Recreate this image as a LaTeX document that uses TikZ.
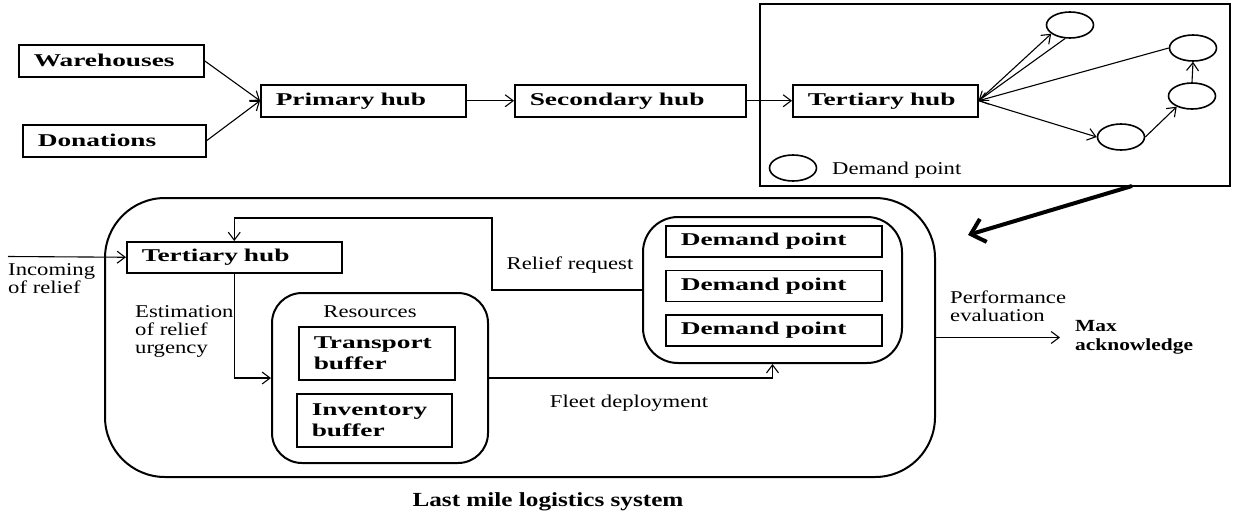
\documentclass[tikz,border=0pt]{standalone}
\usepackage{fontspec}
\setmainfont{Liberation Serif}[FakeStretch=1.26]
\newfontfamily\boxfont{Liberation Serif}[FakeStretch=1.52]
\usepackage{tikz}
\usetikzlibrary{arrows.meta, positioning, shapes.geometric}

\begin{document}
\begin{tikzpicture}[x=1pt, y=-1pt,
  hubbox/.style={
    draw, line width=1.5pt, anchor=north west,
    inner xsep=15pt, inner ysep=0pt, minimum height=32pt,
    text width=#1, align=left,
    font=\boxfont\bfseries\fontsize{18}{21}\selectfont
  },
  groupbox/.style={draw, line width=2pt, rounded corners=#1, inner sep=0pt},
  dpoint/.style={ellipse, draw, line width=1.6pt,
    minimum width=47pt, minimum height=26pt, inner sep=0pt},
  lbl/.style={font=\fontsize{18}{18}\selectfont, align=left, inner sep=0pt},
  arr/.style={-{Straight Barb[length=8pt,width=12pt]}, line width=1.1pt},
  bigarr/.style={-{Straight Barb[length=13pt,width=24pt]}, line width=4pt}
]
  \useasboundingbox (0,0) rectangle (1236,517);

  % supply chain
  \node[hubbox=155pt] (wh)   at (18,44)  {Warehouses};
  \node[hubbox=153pt] (don)  at (22,124) {Donations};
  \node[hubbox=175pt] (prim) at (260,84) {Primary hub};
  \node[hubbox=201pt] (sec)  at (514,84) {Secondary hub};

  \draw[arr] (wh.east)   -- (prim.west);
  \draw[arr] (don.east)  -- (prim.west);
  \draw[arr] (prim.east) -- (sec.west);

  % network of demand points
  \node[draw, line width=1.3pt, minimum width=470pt, minimum height=182pt,
        inner sep=0pt] (net) at (995,95) {};
  \node[hubbox=155pt] (ter) at (792,84) {Tertiary hub};
  \node[dpoint] (dp1) at (1070,25)  {};
  \node[dpoint] (dp2) at (1193,48)  {};
  \node[dpoint] (dp3) at (1192,96)  {};
  \node[dpoint] (dp4) at (1121,137) {};
  \node[dpoint] (leg) at (793,168)  {};
  \node[lbl, anchor=west] (legtxt) at (832,170) {Demand point};

  \draw[arr] (sec.east)  -- (ter.west);
  \draw[arr] (ter.east)  -- (dp1.205);
  \draw[arr] (dp1.250)   -- (ter.east);
  \draw[arr] (dp2.west)  -- (ter.east);
  \draw[arr] (ter.east)  -- (dp4.west);
  \draw[arr] (dp4.east)  -- (dp3.215);
  \draw[arr] (dp3.north) -- (dp2.south);

  \coordinate (zoomfrom) at (1132,186);
  \coordinate (zoomto)   at (968,235);
  \draw[bigarr] (zoomfrom) -- (zoomto);

  % last mile logistics system
  \node[groupbox=60pt, minimum width=830pt, minimum height=279pt] (lmls) at (520,337.5) {};
  \node[hubbox=185pt, minimum height=31pt] (ter2) at (126,241) {Tertiary hub};
  \node[groupbox=30pt, minimum width=216pt, minimum height=170pt] (res) at (380,378) {};
  \node[lbl] (restxt) at (370,312) {Resources};
  \node[hubbox=126pt, minimum height=53pt] (tb) at (298,326) {Transport\\buffer};
  \node[hubbox=125pt, minimum height=53pt] (ib) at (296,393) {Inventory\\buffer};

  \node[groupbox=35pt, minimum width=259pt, minimum height=146pt] (dg) at (772.5,290) {};
  \node[hubbox=186pt, minimum height=31pt] (dpa) at (665,225) {Demand point};
  \node[hubbox=186pt, minimum height=31pt, below=12pt of dpa.south west, anchor=north west] (dpb) {Demand point};
  \node[hubbox=186pt, minimum height=31pt, below=12pt of dpb.south west, anchor=north west] (dpc) {Demand point};

  \coordinate (inflow) at (8,256.5);
  \node[lbl, anchor=north west] (intxt) at (8,263) {Incoming\\of relief};
  \draw[arr] (inflow) -- (ter2.west);

  \coordinate (fb) at (492,218);
  \draw[arr] (dg.west) -| (fb) -| (ter2.north);
  \node[lbl] (reqtxt) at (570,265) {Relief request};

  \draw[arr] (ter2.south) |- (res.west);
  \node[lbl, anchor=north west] (esttxt) at (135,305) {Estimation\\of relief\\urgency};

  \draw[arr] (res.east) -| (dg.south);
  \node[lbl] (fleettxt) at (629,403) {Fleet deployment};

  \node[lbl, anchor=west, font=\bfseries\fontsize{17}{19}\selectfont] (maxack) at (1075,337.5) {Max\\acknowledge};
  \draw[arr, shorten >=15pt] (lmls.east) -- (maxack.west);
  \node[lbl, anchor=north west] (perftxt) at (950,291) {Performance\\evaluation};

  \node[lbl, font=\bfseries\fontsize{20}{22}\selectfont] (title) at (548,502) {Last mile logistics system};
\end{tikzpicture}
\end{document}
